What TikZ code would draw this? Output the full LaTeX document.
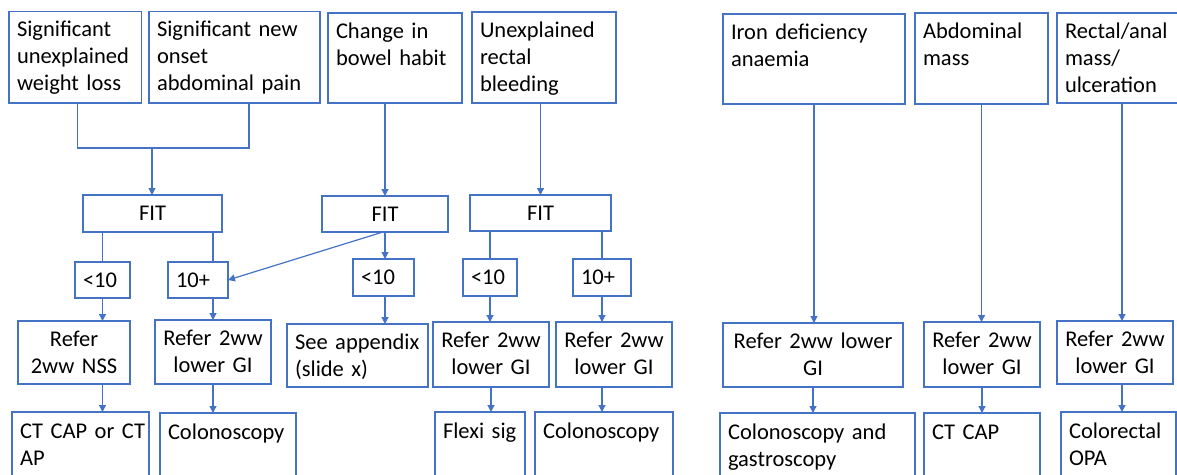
\documentclass[tikz,border=0pt]{standalone}
\usepackage{fontspec}
\setmainfont{Carlito}
\usepackage{tikz}
\usetikzlibrary{arrows.meta}
\definecolor{nhsblue}{HTML}{4472C4}
\hyphenpenalty=10000
\exhyphenpenalty=10000

\tikzset{
  cell/.style={draw=nhsblue, line width=1.4pt, anchor=north west, outer sep=0pt,
    inner ysep=0pt, text height=25pt, font=\fontsize{22.5}{27}\selectfont},
  lcell/.style={cell, inner xsep=8pt, align=left},
  ccell/.style={cell, inner xsep=2pt, align=center},
  link/.style={draw=nhsblue, line width=1.2pt},
  flowarrow/.style={link, -{Triangle[length=7pt,width=7pt]}}
}

\begin{document}
\begin{tikzpicture}[x=1pt, y=-1pt]
\useasboundingbox (0,0) rectangle (1177,474);
\clip (0,0) rectangle (1177,474);

% symptoms
\node[lcell, text width=116.5pt, text depth=66.5pt] (wl) at (9,11.5) {Significant\\unexplained\\weight loss};
\node[lcell, text width=155pt, text depth=66.5pt] (ap) at (149,11.5) {Significant new\\onset\\abdominal pain};
\node[lcell, text width=118pt, text depth=65pt] (bh) at (328,13) {Change in\\bowel habit};
\node[lcell, text width=128pt, text depth=66pt] (rb) at (472,12) {Unexplained\\rectal\\bleeding};
\node[lcell, text width=166pt, text depth=65pt] (ida) at (723,14) {Iron deficiency\\anaemia};
\node[lcell, text width=117pt, text depth=66pt] (am) at (915,13) {Abdominal\\mass};
\node[lcell, text width=114pt, text depth=65pt] (ram) at (1057,13) {Rectal/anal\\mass/\\ulceration};

% FIT
\node[ccell, text width=135pt, text depth=12pt] (fit1) at (83,195) {FIT};
\node[ccell, text width=122pt, text depth=11pt] (fit2) at (322,196) {FIT};
\node[ccell, text width=137pt, text depth=11pt] (fit3) at (470,195) {FIT};

% results
\node[lcell, text width=39pt, text depth=11pt] (lo1) at (75,262) {<10};
\node[lcell, text width=44pt, text depth=11pt] (hi1) at (168,262) {10+};
\node[lcell, text width=45pt, text depth=12pt] (lo2) at (353,259) {<10};
\node[lcell, text width=38pt, text depth=12pt] (lo3) at (463,259) {<10};
\node[lcell, text width=42pt, text depth=12pt] (hi3) at (573,259) {10+};

% referral
\node[ccell, text width=108pt, text depth=38pt] (nss) at (18,321) {Refer\\2ww NSS};
\node[ccell, text width=112pt, text depth=39pt] (rg1) at (155,320) {Refer 2ww\\lower GI};
\node[lcell, text width=125pt, text depth=38pt] (app) at (287,324) {See appendix\\(slide x)};
\node[ccell, text width=112pt, text depth=40pt] (rg3) at (433,322) {Refer 2ww\\lower GI};
\node[ccell, text width=112pt, text depth=40pt] (rg4) at (556,322) {Refer 2ww\\lower GI};
\node[ccell, text width=176pt, text depth=39pt] (rg5) at (723,323) {Refer 2ww lower\\GI};
\node[ccell, text width=112pt, text depth=40pt] (rg6) at (924,322) {Refer 2ww\\lower GI};
\node[ccell, text width=112pt, text depth=38pt] (rg7) at (1057,321) {Refer 2ww\\lower GI};

% tests
\node[lcell, text height=26pt, text width=121pt, text depth=54pt] (ct1) at (12,412) {CT~CAP~or~CT\\AP};
\node[lcell, text height=26pt, text width=120pt, text depth=54pt] (col1) at (160,413) {Colonoscopy};
\node[lcell, text height=26pt, text width=74pt, text depth=54pt] (fs) at (435,412) {Flexi sig};
\node[lcell, text height=26pt, text width=122pt, text depth=54pt] (col2) at (535,412) {Colonoscopy};
\node[lcell, text height=26pt, text width=179pt, text depth=54pt] (cg) at (720,413) {Colonoscopy and\\gastroscopy};
\node[lcell, text height=26pt, text width=100pt, text depth=54pt] (ct2) at (924,413) {CT CAP};
\node[lcell, text height=26pt, text width=99pt, text depth=54pt] (opa) at (1061,412) {Colorectal\\OPA};

% % % % % % % % % % % % % % % % % % % % % % % % % %

\coordinate (join) at (152,148);
\draw[link] ([xshift=2pt]wl.south) |- (join) -| ([xshift=14.5pt]ap.south);
\draw[flowarrow] (join) -- (join |- fit1.north);
\draw[flowarrow] (bh.south -| fit2.north) -- (fit2.north);
\draw[flowarrow] (rb.south -| fit3.north) -- (fit3.north);
\draw[flowarrow] (ida.south) -- (ida.south |- rg5.north);
\draw[flowarrow] (am.south) -- (am.south |- rg6.north);
\draw[flowarrow] (ram.south) -- (ram.south |- rg7.north);

\draw[link] (fit1.south -| lo1.north) -- (lo1.north);
\coordinate (hi1in) at ([xshift=15pt]hi1.north);
\draw[link] (fit1.south -| hi1in) -- (hi1in);
\draw[flowarrow] ([xshift=-2pt]fit2.south) -- (hi1.east);
\draw[flowarrow] (fit2.south) -- (fit2.south |- lo2.north);
\draw[link] (fit3.south -| lo3.north) -- (lo3.north);
\draw[link] (fit3.south -| hi3.north) -- (hi3.north);

\draw[flowarrow] (lo1.south) -- (lo1.south |- nss.north);
\draw[flowarrow] (hi1in |- hi1.south) -- (hi1in |- rg1.north);
\draw[flowarrow] (lo2.south -| fit2.south) -- (fit2.south |- app.north);
\draw[flowarrow] (lo3.south) -- (lo3.south |- rg3.north);
\draw[flowarrow] (hi3.south) -- (hi3.south |- rg4.north);

\draw[flowarrow] (nss.south -| lo1.south) -- (lo1.south |- ct1.north);
\draw[flowarrow] (rg1.south) -- (rg1.south |- col1.north);
\draw[flowarrow] (rg3.south) -- (rg3.south |- fs.north);
\draw[flowarrow] (rg4.south -| hi3.south) -- (hi3.south |- col2.north);
\draw[flowarrow] (rg5.south) -- (rg5.south |- cg.north);
\draw[flowarrow] (rg6.south) -- (rg6.south |- ct2.north);
\draw[flowarrow] (rg7.south -| ram.south) -- (ram.south |- opa.north);
\end{tikzpicture}
\end{document}
